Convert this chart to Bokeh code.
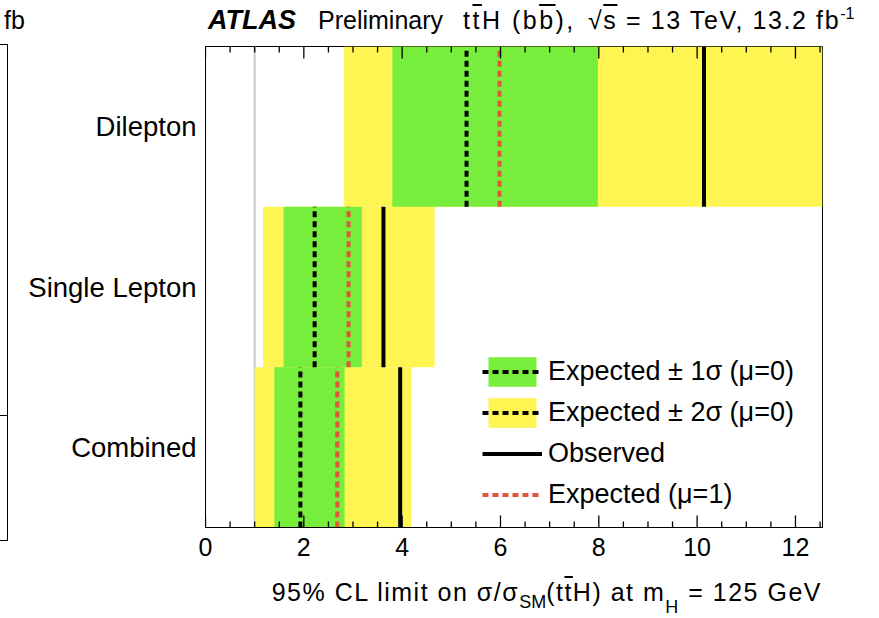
import numpy as np
from bokeh.plotting import figure
from bokeh.layouts import column, row
from bokeh.models import (ColumnDataSource, Range1d, SingleIntervalTicker, LinearAxis,
                          FixedTicker, Legend, LegendItem, Span, Div)
from bokeh.embed import file_html
from bokeh.resources import INLINE

# ---- data (bottom row first) ----
categories = ["Combined", "Single Lepton", "Dilepton"]
exp_minus2 = [1.00, 1.17, 2.82]
exp_minus1 = [1.40, 1.59, 3.80]
expected_mu0 = [1.93, 2.22, 5.31]
expected_mu1 = [2.68, 2.91, 5.98]
exp_plus1 = [2.83, 3.18, 7.98]
exp_plus2 = [4.18, 4.66, 14.0]
observed = [3.96, 3.62, 10.14]
sm_value = 1.0
major_interval = 2.0
minor_interval = 0.5
x_max = 12.55

FONT = "Liberation Sans"
GREEN = "#77ee3b"
YELLOW = "#fff552"
RED = "#e3553a"
STRIP = 25
W = 871 - STRIP

ypos = list(range(len(categories)))
src = ColumnDataSource(dict(
    y=ypos,
    y0=[v - 0.5 for v in ypos],
    y1=[v + 0.5 for v in ypos],
    m2=exp_minus2, m1=exp_minus1, exp=expected_mu0, exp1=expected_mu1,
    p1=exp_plus1, p2=exp_plus2, obs=observed,
))

ymin, ymax = -0.5, len(categories) - 0.5
p = figure(width=W, height=534, output_backend="svg", toolbar_location=None,
           x_range=Range1d(0, x_max), y_range=Range1d(ymin, ymax),
           min_border_left=205 - STRIP, min_border_right=49, min_border_top=8, min_border_bottom=45,
           x_axis_location=None, y_axis_location=None)
p.grid.visible = False
p.outline_line_color = "black"
p.outline_line_width = 1
p.background_fill_color = "white"
p.border_fill_color = "white"

# SM reference line
p.add_layout(Span(location=sm_value, dimension="height", line_color="#c8c8c8", line_width=2, level="underlay"))

r_yel = p.hbar(y="y", height=1.0, left="m2", right="p2", source=src, fill_color=YELLOW, line_color=None)
r_grn = p.hbar(y="y", height=1.0, left="m1", right="p1", source=src, fill_color=GREEN, line_color=None)
r_exp = p.segment(x0="exp", x1="exp", y0="y0", y1="y1", source=src, line_color="black",
                  line_width=4, line_dash="6 4")
r_exp1 = p.segment(x0="exp1", x1="exp1", y0="y0", y1="y1", source=src, line_color=RED,
                   line_width=4, line_dash="6 4")
r_obs = p.segment(x0="obs", x1="obs", y0="y0", y1="y1", source=src, line_color="black", line_width=4)

# inward tick marks on bottom and top edges (ROOT style)
minor_x = np.arange(0, x_max, minor_interval)
major_mask = np.isclose(np.mod(minor_x, major_interval), 0)
for xs, ln in ((minor_x[~major_mask], 6), (minor_x[major_mask], 12)):
    p.ray(x=xs, y=np.full(len(xs), ymin), length=ln, length_units="screen",
          angle=np.pi / 2, line_color="black", line_width=1.3)
    p.ray(x=xs, y=np.full(len(xs), ymax), length=ln, length_units="screen",
          angle=-np.pi / 2, line_color="black", line_width=1.3)

# x axis (labels only)
xax = LinearAxis(ticker=SingleIntervalTicker(interval=major_interval, num_minor_ticks=0))
xax.major_tick_in = 0
xax.major_tick_out = 0
xax.minor_tick_line_color = None
xax.axis_line_color = "black"
xax.major_label_text_font = FONT
xax.major_label_text_color = "black"
xax.major_label_text_font_size = "25px"
xax.major_label_standoff = 10
p.add_layout(xax, "below")

yax = LinearAxis(ticker=FixedTicker(ticks=ypos))
yax.major_label_overrides = {i: c for i, c in zip(ypos, categories)}
yax.major_tick_in = 0
yax.major_tick_out = 0
yax.minor_tick_line_color = None
yax.axis_line_color = "black"
yax.major_label_text_font = FONT
yax.major_label_text_font_size = "27.5px"
yax.major_label_text_color = "black"
yax.major_label_standoff = 9
p.add_layout(yax, "left")

# legend
legend = Legend(items=[
    LegendItem(label="Expected \u00b1 1\u03c3 (\u03bc=0)", renderers=[r_grn, r_exp]),
    LegendItem(label="Expected \u00b1 2\u03c3 (\u03bc=0)", renderers=[r_yel, r_exp]),
    LegendItem(label="Observed", renderers=[r_obs]),
    LegendItem(label="Expected (\u03bc=1)", renderers=[r_exp1]),
], location=(277, 14), glyph_width=60, glyph_height=37, label_height=37, spacing=4,
    padding=0, margin=0, border_line_color=None, background_fill_alpha=0,
    label_text_font=FONT, label_text_font_size="27px", label_text_color="black",
    label_standoff=6)
p.add_layout(legend)

# header and axis title as HTML text
OV = '<span style="text-decoration:overline">{}</span>'
def span(left, top, html, size=25, extra=""):
    return ('<span style="position:absolute;left:%dpx;top:%dpx;font-size:%dpx;'
            'line-height:1;white-space:nowrap;%s">%s</span>' % (left - STRIP, top, size, extra, html))

header_html = (
    '<div style="position:relative;width:%dpx;height:38px;font-family:\'%s\';color:black;">' % (W, FONT)
    + span(208, 7, "ATLAS", 27, "font-weight:bold;font-style:italic;")
    + span(318, 8, "Preliminary", 25)
    + span(463, 8, "t" + OV.format("t") + "H (b" + OV.format("b") + "),", 25, "letter-spacing:2.5px;")
    + span(588, 8, "\u221a" + OV.format("s") + " = 13 TeV, 13.2 fb"
           + '<span style="font-size:16px;position:relative;top:-10px;letter-spacing:0;">-1</span>', 25,
           "letter-spacing:1.6px;")
    + '</div>'
)
header = Div(text=header_html, width=W, height=38, margin=0)

footer_html = (
    '<div style="position:relative;width:%dpx;height:40px;font-family:\'%s\';color:black;">' % (W, FONT)
    + '<span style="position:absolute;right:%dpx;top:8px;font-size:25px;line-height:1;'
      'white-space:nowrap;letter-spacing:1.5px;">' % (871 - 822)
    + "95% CL limit on \u03c3/\u03c3"
    + '<span style="font-size:18px;position:relative;top:7px;letter-spacing:0;">SM</span>'
    + "(t" + OV.format("t") + "H) at m"
    + '<span style="font-size:18px;position:relative;top:12px;">H</span>'
    + " = 125 GeV</span></div>"
)
footer = Div(text=footer_html, width=W, height=40, margin=0)

# cropped neighbouring panel at the far left (frame edge and unit text)
def hline(x, y, w):
    return '<div style="position:absolute;left:%dpx;top:%dpx;width:%dpx;height:1px;background:black;"></div>' % (x, y, w)
strip_html = (
    '<div style="position:relative;width:%dpx;height:612px;font-family:\'%s\';color:black;">' % (STRIP, FONT)
    + '<span style="position:absolute;left:4px;top:8px;font-size:25px;line-height:1;">fb</span>'
    + '<div style="position:absolute;left:7px;top:44px;width:1px;height:496px;background:black;"></div>'
    + hline(0, 44, 8) + hline(0, 415, 8) + hline(0, 540, 8)
    + '</div>'
)
strip = Div(text=strip_html, width=STRIP, height=612, margin=0)

layout = row(strip, column(header, p, footer, spacing=0), spacing=0)
open("out.html", "w").write(file_html(layout, INLINE))
